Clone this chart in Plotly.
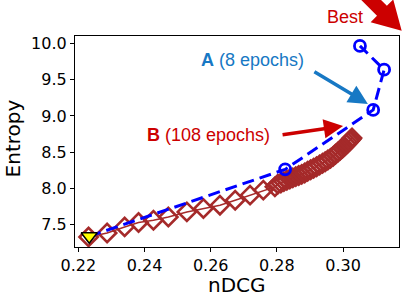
import math
import plotly.graph_objects as go

# ---- data ----
a_ndcg = [0.2233, 0.2825, 0.3091, 0.3124, 0.3051]
a_entropy = [7.333, 8.26, 9.083, 9.64, 9.97]

b_ndcg = [0.2231, 0.2287, 0.2340, 0.2382, 0.2427, 0.2472, 0.2528, 0.2578, 0.2628,
          0.2674, 0.2719, 0.2759, 0.2794,
          0.2803, 0.2812, 0.2821, 0.2830, 0.2839, 0.2848, 0.2857, 0.2866, 0.2875,
          0.2884, 0.2893, 0.2902, 0.2911, 0.2920, 0.2929, 0.2938, 0.2946, 0.2954,
          0.2962, 0.2970, 0.2977, 0.2984, 0.2991, 0.2998, 0.3004, 0.3010, 0.3015,
          0.3020, 0.3024, 0.3027]
b_entropy = [7.324, 7.379, 7.463, 7.524, 7.556, 7.601, 7.671, 7.718, 7.764,
             7.833, 7.903, 7.972, 8.018,
             8.056, 8.072, 8.090, 8.108, 8.126, 8.143, 8.159, 8.175, 8.190,
             8.210, 8.234, 8.255, 8.276, 8.297, 8.320, 8.344, 8.366, 8.389,
             8.413, 8.440, 8.470, 8.497, 8.524, 8.552, 8.580, 8.608, 8.632,
             8.656, 8.676, 8.694]

start_ndcg = [0.2233]
start_entropy = [7.333]

x_ticks = [0.22, 0.24, 0.26, 0.28, 0.30]
x_tick_labels = ["0.22", "0.24", "0.26", "0.28", "0.30"]
y_ticks = [7.5, 8.0, 8.5, 9.0, 9.5, 10.0]
y_tick_labels = ["7.5", "8.0", "8.5", "9.0", "9.5", "10.0"]

W, H = 407, 298
L, R, T, B = 74.7, 399.3, 36.3, 246.7

def px(x):
    return (x - L) / (R - L)

def py(y):
    return (B - y) / (B - T)

RED = "#CC0000"
BROWN = "#A52A2A"
BLUE = "#0000FF"
ABLUE = "#1778C4"

fig = go.Figure()
fig.add_trace(go.Scatter(
    x=b_ndcg, y=b_entropy, mode="lines+markers",
    line=dict(color=BROWN, width=1.5),
    marker=dict(symbol="diamond-open", size=14, color=BROWN, line=dict(width=2.6, color=BROWN)),
    showlegend=False, hoverinfo="skip"))
fig.add_trace(go.Scatter(
    x=a_ndcg, y=a_entropy, mode="lines",
    line=dict(color=BLUE, width=3, dash="12px,6px"),
    showlegend=False, hoverinfo="skip"))
fig.add_trace(go.Scatter(
    x=a_ndcg[1:], y=a_entropy[1:], mode="markers",
    marker=dict(symbol="circle-open", size=11, color=BLUE, line=dict(width=2.8, color=BLUE)),
    showlegend=False, hoverinfo="skip"))
fig.add_trace(go.Scatter(
    x=start_ndcg, y=start_entropy, mode="markers",
    marker=dict(symbol="triangle-down", size=14, color="yellow", line=dict(width=1.5, color="black")),
    showlegend=False, hoverinfo="skip"))

ann_font = "Liberation Sans, Arial, sans-serif"
tick_font = "DejaVu Sans"

annotations = [
    dict(x=0.3075, y=9.167, xref="x", yref="y", ax=-55, ay=-33, axref="pixel", ayref="pixel",
         showarrow=True, arrowhead=2, arrowsize=1.1, arrowwidth=3.5, arrowcolor=ABLUE, text=""),
    dict(x=0.3000, y=8.861, xref="x", yref="y", ax=-62, ay=9, axref="pixel", ayref="pixel",
         showarrow=True, arrowhead=2, arrowsize=1.1, arrowwidth=3.5, arrowcolor=RED, text=""),
    dict(x=px(253), y=py(60.7), xref="paper", yref="paper", showarrow=False,
         text="<b>A</b> (8 epochs)", font=dict(family=ann_font, size=18, color=ABLUE),
         xanchor="center", yanchor="middle"),
    dict(x=px(208), y=py(135.5), xref="paper", yref="paper", showarrow=False,
         text="<b>B</b> (108 epochs)", font=dict(family=ann_font, size=18, color=RED),
         xanchor="center", yanchor="middle"),
    dict(x=px(345), y=py(17), xref="paper", yref="paper", showarrow=False,
         text="Best", font=dict(family=ann_font, size=18, color=RED),
         xanchor="center", yanchor="middle"),
    dict(x=px(237), y=py(285), xref="paper", yref="paper", showarrow=False,
         text="nDCG", font=dict(family=tick_font, size=20, color="black"),
         xanchor="center", yanchor="middle"),
    dict(x=px(13), y=py(138), xref="paper", yref="paper", showarrow=False,
         text="Entropy", textangle=-90, font=dict(family=tick_font, size=20, color="black"),
         xanchor="center", yanchor="middle"),
]

# big "Best" arrow pointing down-right (partly outside the image), built in pixel space
tip = (402.0, 31.0)
d = (1.0, 1.0)
n = math.hypot(*d)
d = (d[0] / n, d[1] / n)
p = (-d[1], d[0])  # perpendicular (towards lower-left side)
head_len, head_hw, shaft_hw, shaft_len = 28.0, 16.0, 7.0, 30.0
base = (tip[0] - head_len * d[0], tip[1] - head_len * d[1])
def off(pt, v, s):
    return (pt[0] + v[0] * s, pt[1] + v[1] * s)
w1 = off(base, p, head_hw)
w2 = off(base, p, -head_hw)
s1 = off(base, p, shaft_hw)
s2 = off(base, p, -shaft_hw)
s1t = off(s1, d, -shaft_len)
s2t = off(s2, d, -shaft_len)
pts = [tip, w1, s1, s1t, s2t, s2, w2]
path = "M " + " L ".join(f"{px(a):.4f},{py(b):.4f}" for a, b in pts) + " Z"
shapes = [dict(type="path", xref="paper", yref="paper", path=path,
               fillcolor=RED, line=dict(width=0), layer="above")]

fig.update_layout(
    width=W, height=H,
    margin=dict(l=L, r=W - R, t=T, b=H - B, autoexpand=False),
    paper_bgcolor="white", plot_bgcolor="white",
    annotations=annotations, shapes=shapes,
    font=dict(family=tick_font, size=16, color="black"),
)
fig.update_xaxes(range=[0.219, 0.3169], tickvals=x_ticks, ticktext=x_tick_labels,
                 showgrid=False, zeroline=False, showline=True, mirror=True,
                 linecolor="black", linewidth=1.2, ticks="outside", ticklen=4,
                 tickcolor="black", tickwidth=1.2, tickfont=dict(family=tick_font, size=16))
fig.update_yaxes(range=[7.185, 10.107], tickvals=y_ticks, ticktext=y_tick_labels,
                 showgrid=False, zeroline=False, showline=True, mirror=True,
                 linecolor="black", linewidth=1.2, ticks="outside", ticklen=4,
                 tickcolor="black", tickwidth=1.2, tickfont=dict(family=tick_font, size=16))

fig.write_html("out.html", config={"displayModeBar": False},
               post_script="document.body.style.margin='0';document.body.style.overflow='hidden';")
